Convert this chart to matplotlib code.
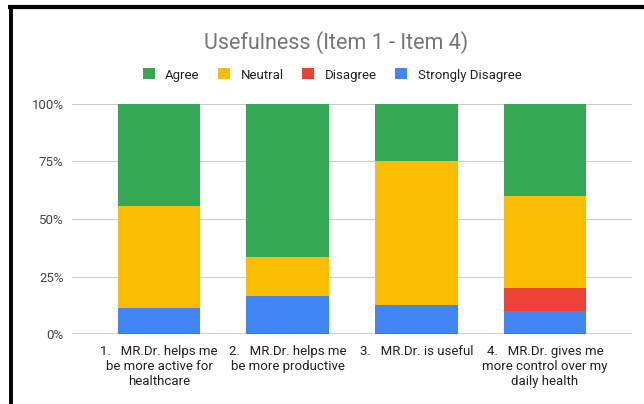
import matplotlib
matplotlib.use("Agg")
import matplotlib.pyplot as plt
from matplotlib.patches import Patch
from matplotlib.lines import Line2D

plt.rcParams['font.family'] = ['Roboto', 'DejaVu Sans']

categories = [
    "1.   MR.Dr. helps me\nbe more active for\nhealthcare",
    "2.   MR.Dr. helps me\nbe more productive",
    "3.   MR.Dr. is useful",
    "4.   MR.Dr. gives me\nmore control over my\ndaily health",
]
strongly_disagree = [11.1, 16.7, 12.5, 10.0]
disagree = [0.0, 0.0, 0.0, 10.0]
neutral = [44.4, 16.7, 62.5, 40.0]
agree = [44.4, 66.7, 25.0, 40.0]
yticks = [0, 25, 50, 75, 100]
ytick_labels = ["0%", "25%", "50%", "75%", "100%"]

colors = {"Agree": "#34A853", "Neutral": "#FBBC04", "Disagree": "#EA4335",
          "Strongly Disagree": "#4285F4"}

fig = plt.figure(figsize=(6.44, 4.04), dpi=100)
ax = fig.add_axes([72/644, 1-334/404, 560/644, 230/404])

x = list(range(len(categories)))
w = 0.64
bottom = [0.0]*4
for name, vals in [("Strongly Disagree", strongly_disagree), ("Disagree", disagree),
                   ("Neutral", neutral), ("Agree", agree)]:
    ax.bar(x, vals, w, bottom=bottom, color=colors[name], zorder=3)
    bottom = [b + v for b, v in zip(bottom, vals)]

ax.set_xlim(-0.676, 3.676)
ax.set_ylim(0, 100)
ax.set_yticks(yticks)
ax.set_yticklabels(ytick_labels, fontsize=9.5, color="#444444")
ax.set_xticks(x)
ax.set_xticklabels(categories, fontsize=9.5, color="#222222", linespacing=1.2)
ax.tick_params(axis='both', length=0, pad=6)
ax.tick_params(axis='x', pad=8)
for s in ax.spines.values():
    s.set_visible(False)
ax.grid(axis='y', color="#cccccc", linewidth=0.8, zorder=0)
ax.axhline(0, color="#333333", linewidth=1.0, zorder=4)

fig.text(336/644, 1-43/404, "Usefulness (Item 1 - Item 4)", ha='center', va='center',
         fontsize=15.5, color="#757575")

handles = [Patch(facecolor=colors[k]) for k in ["Agree", "Neutral", "Disagree", "Strongly Disagree"]]
fig.legend(handles, ["Agree", "Neutral", "Disagree", "Strongly Disagree"],
           loc='center', bbox_to_anchor=(332/644, 1-75/404), ncol=4, frameon=False,
           fontsize=9.5, handlelength=0.9, handleheight=0.9, handletextpad=0.8,
           columnspacing=1.4, labelcolor="#222222")

# black frame lines of screenshot
fig.add_artist(Line2D([8/644, 1], [1-7/404, 1-7/404], transform=fig.transFigure,
                      color="black", linewidth=3, solid_capstyle='butt'))
fig.add_artist(Line2D([11/644, 11/644], [0, 1-9/404], transform=fig.transFigure,
                      color="black", linewidth=2.8, solid_capstyle='butt'))

fig.savefig("out.png", dpi=100)
